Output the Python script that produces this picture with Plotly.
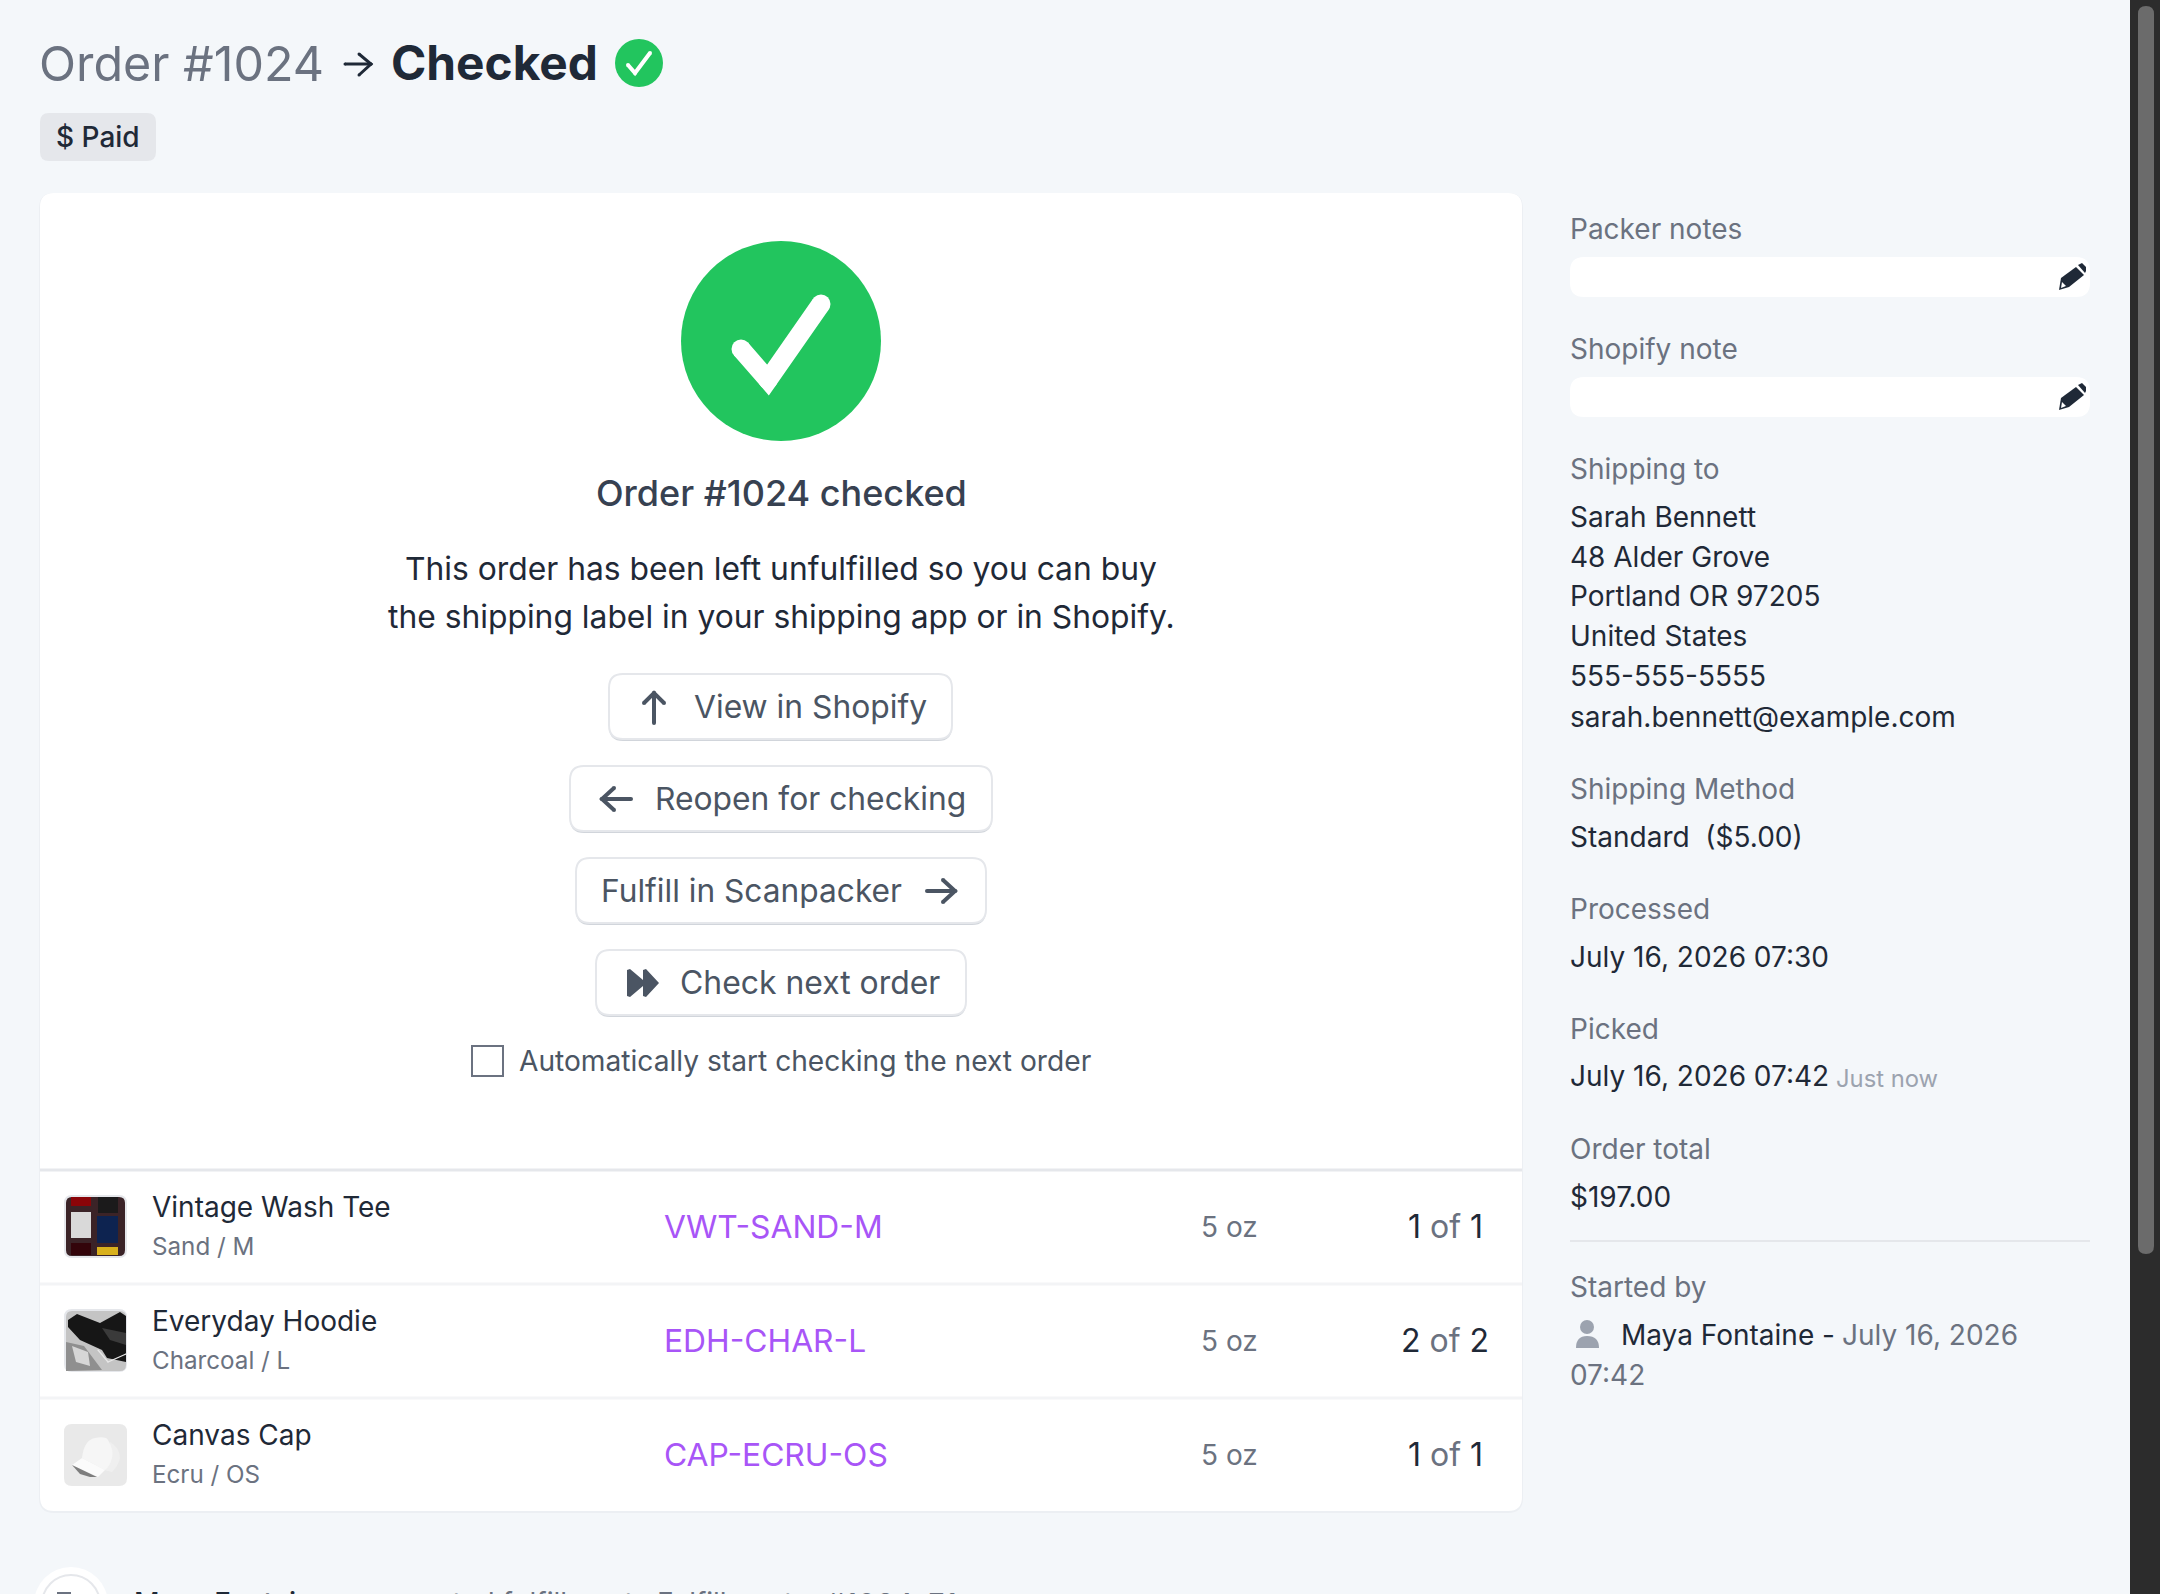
import plotly.graph_objects as go

# text content of the order screen
heading_order = "Order #1024"
heading_state = "Checked"
badge_label = "$ Paid"
card_title = "Order #1024 checked"
card_lines = ["This order has been left unfulfilled so you can buy",
              "the shipping label in your shipping app or in Shopify."]
button_labels = ["View in Shopify", "Reopen for checking", "Fulfill in Scanpacker", "Check next order"]
auto_label = "Automatically start checking the next order"

item_names = ["Vintage Wash Tee", "Everyday Hoodie", "Canvas Cap"]
item_variants = ["Sand / M", "Charcoal / L", "Ecru / OS"]
item_skus = ["VWT-SAND-M", "EDH-CHAR-L", "CAP-ECRU-OS"]
item_weights = ["5 oz", "5 oz", "5 oz"]
item_checked = [1, 2, 1]
item_quantity = [1, 2, 1]

side_labels = ["Packer notes", "Shopify note", "Shipping to", "Shipping Method",
               "Processed", "Picked", "Order total", "Started by"]
address_lines = ["Sarah Bennett", "48 Alder Grove", "Portland OR 97205", "United States",
                 "555-555-5555", "sarah.bennett@example.com"]
side_values = ["Standard  ($5.00)", "July 16, 2026 07:30", "July 16, 2026 07:42", "$197.00"]
picked_note = "Just now"
started_name = "Maya Fontaine -"
started_date = "July 16, 2026"
started_time = "07:42"
activity_parts = ["Maya Fontaine", "created fulfillment", "Fulfillment", "#1024-F1"]

GREEN = "#22c55e"
DARK = "#1f2937"
GRAY = "#6b7280"
SLATE = "#4b5563"
PURPLE = "#a855f7"
BORDER = "#e5e7eb"
PAGE = "#f4f7fa"

shapes = []
notes = []


def text(x, y, s, size=28, color=DARK, anchor="left", weight=400, vanchor="middle"):
    # annotations pad their box, pull left aligned text back onto x
    if anchor == "left":
        x -= 3
    notes.append(dict(x=x, y=y, text=s, showarrow=False, xanchor=anchor, yanchor=vanchor,
                      font=dict(family="Inter", size=size, color=color, weight=weight)))


def path(d, fill=None, color=None, width=0):
    shapes.append(dict(type="path", path=d, fillcolor=fill or "rgba(0,0,0,0)",
                       line=dict(color=color or "rgba(0,0,0,0)", width=width)))


def box(x0, y0, x1, y1, r, fill, color=None, width=0):
    d = (f"M{x0+r},{y0} L{x1-r},{y0} Q{x1},{y0} {x1},{y0+r} L{x1},{y1-r} Q{x1},{y1} {x1-r},{y1} "
         f"L{x0+r},{y1} Q{x0},{y1} {x0},{y1-r} L{x0},{y0+r} Q{x0},{y0} {x0+r},{y0} Z")
    path(d, fill, color, width)


def circle(cx, cy, r, fill, color=None, width=0):
    shapes.append(dict(type="circle", x0=cx-r, x1=cx+r, y0=cy-r, y1=cy+r, fillcolor=fill or "rgba(0,0,0,0)",
                       line=dict(color=color or "rgba(0,0,0,0)", width=width)))


def stroke(points, width, color):
    # shapes have no round linecap, so the ends and joints get small dots
    d = "M" + " L".join(f"{x},{y}" for x, y in points)
    path(d, None, color, width)
    for x, y in points:
        circle(x, y, width / 2, color)


# page chrome
box(-5, -5, 2130, 1600, 0, PAGE)
shapes.append(dict(type="rect", x0=2130, x1=2160, y0=0, y1=1594, fillcolor="#2c2c2c", line=dict(width=0)))
box(2138, 6, 2154, 1254, 8, "#6b6b6b")

# heading
text(40, 63, heading_order, 48.4, GRAY)
stroke([(345, 64), (371, 64)], 3, DARK)
stroke([(359, 54), (371, 64), (359, 75)], 3, DARK)
text(392, 63, heading_state, 47.8, DARK, weight=700)
circle(639, 63, 24, GREEN)
stroke([(628, 65), (635, 73), (650, 53)], 4, "white")

box(40, 113, 156, 161, 9, BORDER)
text(98, 137, badge_label, 28, DARK, "center", 500)

# main card
box(39, 193, 1523, 1513, 15, "#eceff3")
box(40, 193, 1522, 1511, 14, "white")
circle(781, 341, 100, GREEN)
stroke([(741, 349), (768, 380), (821, 304)], 19, "white")
text(781, 493, card_title, 36, "#374151", "center", 500)
text(781, 568, card_lines[0], 31.8, DARK, "center")
text(781, 616, card_lines[1], 31.8, DARK, "center")

# buttons
for x0, y0, x1, y1 in [(609, 674, 952, 741), (570, 766, 992, 833), (576, 858, 986, 925), (596, 950, 966, 1017)]:
    box(x0, y0 + 2, x1, y1, 14, "#d1d5db")
    box(x0, y0, x1, y1 - 2, 14, "white", BORDER, 2)
text(695, 706, button_labels[0], 31.8, SLATE)
text(656, 798, button_labels[1], 31.8, SLATE)
text(602, 890, button_labels[2], 31.7, SLATE)
text(681, 982, button_labels[3], 31.9, SLATE)
stroke([(654, 723), (654, 693)], 4, SLATE)
stroke([(644, 703), (654, 693), (664, 703)], 4, SLATE)
stroke([(631, 799), (602, 799)], 4, SLATE)
stroke([(614, 788), (602, 799), (614, 810)], 4, SLATE)
stroke([(927, 891), (955, 891)], 4, SLATE)
stroke([(943, 880), (955, 891), (943, 902)], 4, SLATE)
path("M627,970 L630,969 L643,980 L643,970 L646,969 L659,983 L646,997 L643,996 L643,986 L630,997 L627,996 Z", SLATE)

shapes.append(dict(type="rect", x0=472, x1=503, y0=1046, y1=1076, fillcolor="white",
                   line=dict(color=GRAY, width=2)))
text(520, 1061, auto_label, 28.15, SLATE)

# item table
shapes.append(dict(type="line", x0=40, x1=1522, y0=1170, y1=1170, line=dict(color=BORDER, width=3)))
for y in [1284, 1398]:
    shapes.append(dict(type="line", x0=40, x1=1522, y0=y, y1=y, line=dict(color="#f3f4f6", width=3)))

for i, y in enumerate([1226, 1340, 1454]):
    text(153, y - 19, item_names[i], 28, DARK)
    text(153, y + 20, item_variants[i], 24.2, GRAY)
    text(665, y, item_skus[i], 31.8, PURPLE)
    text(1202, y + 1, item_weights[i], 28, GRAY)
    text(1445, y, f'{item_checked[i]} <span style="color:{GRAY}">of</span> {item_quantity[i]}', 32, DARK, "center")

# thumbnail: folded tees
box(64, 1195, 127, 1258, 8, "#e5e7eb")
box(66, 1197, 125, 1256, 6, "#3b2327")
for x0, y0, x1, y1, c in [(71, 1197, 91, 1206, "#8b0408"), (98, 1197, 118, 1213, "#1b1a1b"),
                          (71, 1212, 91, 1238, "#d9d9d9"), (97, 1216, 118, 1243, "#0d2350"),
                          (71, 1243, 91, 1255, "#33040a"), (97, 1247, 118, 1255, "#d8b01c")]:
    shapes.append(dict(type="rect", x0=x0, x1=x1, y0=y0, y1=y1, fillcolor=c, line=dict(width=0)))

# thumbnail: hoodie
box(64, 1309, 127, 1372, 8, "#e5e7eb")
box(66, 1311, 126, 1371, 6, "#c4c4c4")
path("M68,1320 L77,1314 L100,1323 L120,1312 L126,1316 L126,1362 L107,1358 L102,1350 L80,1340 L68,1327 Z", "#161616")
path("M102,1328 L126,1333 L126,1345 L110,1340 Z", "#3a3a3a")
path("M66,1342 L84,1346 L102,1370 L66,1371 Z", "#8f8f8f")
path("M72,1346 L88,1352 L90,1366 L76,1362 Z", "#d6d6d6")
stroke([(98, 1350), (108, 1362), (126, 1354)], 1.2, "#e8e8e8")

# thumbnail: cap
box(64, 1424, 127, 1486, 8, "#e9e9e9")
path("M110,1442 Q120,1448 120,1458 Q118,1466 112,1472 L104,1470 Z", "#efefef")
path("M82,1458 Q84,1440 95,1438 Q106,1436 108,1440 Q114,1450 112,1458 Q110,1466 105,1470 Z", "#f6f6f6")
path("M72,1465 L82,1458 L105,1470 L98,1477 Z", "#fbfbfb")
path("M72,1465 L97,1477 L90,1477 L80,1474 Z", "#7d7d7d")

# sidebar
text(1571, 229, side_labels[0], 28, GRAY)
box(1570, 257, 2090, 297, 14, "white")
text(1571, 349, side_labels[1], 28, GRAY)
box(1570, 377, 2090, 417, 14, "white")
for top in [263, 383]:
    path(f"M2059,{top+27} L2061,{top+15} L2076,{top+4} L2084,{top+12} L2069,{top+24} Z", DARK)
    path(f"M2078,{top+2} L2082,{top} L2086,{top+4} L2086,{top+8} L2085,{top+10} Z", DARK)
    path(f"M2061,{top+25} L2062,{top+19} L2066,{top+23} Z", "white")
text(1571, 469, side_labels[2], 28, GRAY)
for y, line in zip([517, 557, 596, 636, 676, 717], address_lines):
    text(1571, y, line, 28, DARK)
for y, label in zip([789, 909, 1029, 1149], side_labels[3:7]):
    text(1571, y, label, 28, GRAY)
for y, value in zip([837, 957, 1076, 1197], side_values):
    text(1571, y, value, 28, DARK)
text(1837, 1078, picked_note, 23.8, "#9ca3af")
shapes.append(dict(type="line", x0=1570, x1=2090, y0=1241, y1=1241, line=dict(color=BORDER, width=2)))
text(1571, 1287, side_labels[7], 28, GRAY)
circle(1587, 1327, 7, "#9ca3af")
path("M1576,1348 Q1576,1336 1587,1336 Q1599,1336 1599,1348 Z", "#9ca3af")
text(1622, 1335, started_name, 28, DARK)
text(1843, 1335, started_date, 28, GRAY)
text(1571, 1375, started_time, 28, GRAY)

# activity row, cut off by the bottom of the window
circle(71, 1604, 37, "white")
circle(71, 1604, 29, "white", BORDER, 2)
shapes.append(dict(type="rect", x0=57, x1=71, y0=1592, y1=1596, fillcolor=GRAY, line=dict(width=0)))
text(135, 1584, activity_parts[0], 28, DARK, weight=500, vanchor="top")
text(395, 1584, activity_parts[1], 28, GRAY, vanchor="top")
text(658, 1584, activity_parts[2], 28, GRAY, vanchor="top")
text(827, 1584, activity_parts[3], 30, GRAY, vanchor="top")

fig = go.Figure()
fig.update_layout(
    width=2160, height=1594,
    margin=dict(l=0, r=0, t=0, b=0),
    paper_bgcolor=PAGE, plot_bgcolor=PAGE,
    xaxis=dict(range=[0, 2160], visible=False, fixedrange=True),
    yaxis=dict(range=[1594, 0], visible=False, fixedrange=True),
    shapes=shapes, annotations=notes, showlegend=False,
)
fig.write_html("out.html", config=dict(displayModeBar=False),
               post_script="document.body.style.margin='0';document.body.style.overflow='hidden';")
